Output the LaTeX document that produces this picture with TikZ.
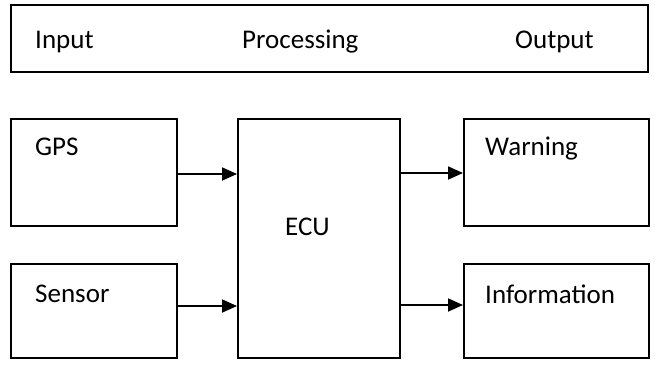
\documentclass[tikz,border=0pt]{standalone}
\usepackage{fontspec}
\setmainfont{Carlito}
\usetikzlibrary{arrows.meta}
\tikzset{
  box/.style={draw=black, line width=2pt, rectangle, inner sep=0pt},
  lbl/.style={anchor=base west, inner sep=0pt, font=\fontsize{27}{30}\selectfont},
  arr/.style={line width=1.8pt, -{Triangle[length=15pt,width=13pt]}},
}
\begin{document}
\begin{tikzpicture}[x=1pt,y=-1pt]
\useasboundingbox (0,0) rectangle (655,364);
% boxes
\node[box, minimum width=637pt, minimum height=67pt] (top) at (329.5,38.5) {};
\node[box, minimum width=166pt, minimum height=107pt] (gps) at (94,172.5) {};
\node[box, minimum width=166pt, minimum height=94pt] (sens) at (94,311) {};
\node[box, minimum width=162pt, minimum height=239pt] (ecu) at (319,238.5) {};
\node[box, minimum width=185pt, minimum height=107pt] (warn) at (556.5,172.5) {};
\node[box, minimum width=185pt, minimum height=94pt] (info) at (556.5,311) {};
% labels
\node[lbl] (tin) at (35,48) {Input};
\node[lbl] (tproc) at (242,48) {Processing};
\node[lbl] (tout) at (515,48) {Output};
\node[lbl] (tgps) at (35,155) {GPS};
\node[lbl] (tsens) at (35,302) {Sensor};
\node[lbl] (tecu) at (285,235) {ECU};
\node[lbl] (twarn) at (485,155) {Warning};
\node[lbl] (tinfo) at (485,303) {Information};
% arrows
\draw[arr] ([yshift=-1.5pt]gps.east) -- ([yshift=-1.5pt]gps.east -| ecu.west);
\draw[arr] ([yshift=5pt]sens.east) -- ([yshift=5pt]sens.east -| ecu.west);
\draw[arr] ([yshift=-0.5pt]warn.west -| ecu.east) -- ([yshift=-0.5pt]warn.west);
\draw[arr] ([yshift=6pt]info.west -| ecu.east) -- ([yshift=6pt]info.west);
\end{tikzpicture}
\end{document}
